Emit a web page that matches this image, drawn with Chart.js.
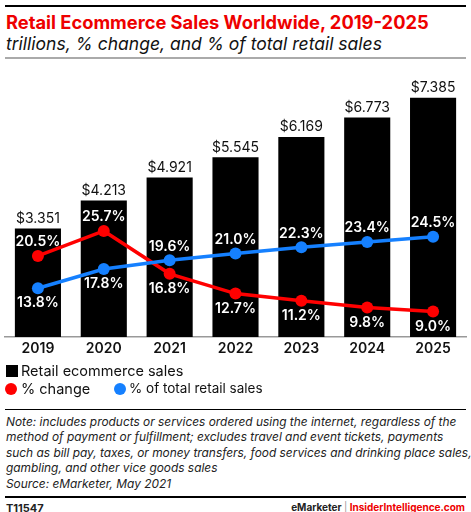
<!DOCTYPE html>
<html><head><meta charset="utf-8">
<script src="https://cdn.jsdelivr.net/npm/chart.js@4/dist/chart.umd.min.js"></script>
<style>
html,body{margin:0;padding:0;background:#fff;width:471px;height:512px;overflow:hidden;font-family:Inter,"DejaVu Sans",sans-serif;}
.abs{position:absolute;}
#topline{left:5px;top:5px;width:461px;height:2px;background:#000;}
#title{left:6px;top:11px;font-size:18.3px;font-weight:700;color:#ee0000;white-space:nowrap;}
#sub{left:6px;top:33px;font-size:17.5px;font-style:italic;color:#111;white-space:nowrap;}
#greyline{left:5px;top:57px;width:461px;height:2px;background:#aaa;}
#chartbox{left:0;top:80px;width:471px;height:287px;}
.leg{font-size:14.5px;color:#111;white-space:nowrap;}
#note{left:6px;top:414px;font-size:11.9px;font-style:italic;line-height:15.4px;color:#222;white-space:nowrap;}
#botline{left:5px;top:496px;width:461px;height:2px;background:#000;}
#code{left:6px;top:501px;font-size:11px;font-weight:700;color:#222;}
#brand{right:6px;top:501px;font-size:10px;font-weight:700;color:#ee0000;white-space:nowrap;}
</style></head>
<body>
<div id="topline" class="abs"></div>
<div id="title" class="abs">Retail Ecommerce Sales Worldwide, 2019-2025</div>
<div id="sub" class="abs">trillions, % change, and % of total retail sales</div>
<div id="greyline" class="abs"></div>
<div id="chartbox" class="abs"><canvas id="c" width="471" height="287"></canvas></div>
<div class="abs" style="left:6px;top:365px;width:12px;height:12px;background:#000;"></div>
<div class="abs leg" style="left:21px;top:362px;">Retail ecommerce sales</div>
<div class="abs" style="left:5px;top:383px;width:12px;height:12px;border-radius:50%;background:#ff0000;"></div>
<div class="abs leg" style="left:21px;top:380px;">% change</div>
<div class="abs" style="left:114px;top:383px;width:12px;height:12px;border-radius:50%;background:#1580ff;"></div>
<div class="abs leg" style="left:129px;top:380px;font-size:13.5px;">% of total retail sales</div>
<div class="abs" style="left:5px;top:409px;width:461px;height:1px;background:#000;"></div>
<div id="note" class="abs">Note: includes products or services ordered using the internet, regardless of the<br>method of payment or fulfillment; excludes travel and event tickets, payments<br>such as bill pay, taxes, or money transfers, food services and drinking place sales,<br>gambling, and other vice goods sales<br>Source: eMarketer, May 2021</div>
<div id="botline" class="abs"></div>
<div id="code" class="abs">T11547</div>
<div id="brand" class="abs"><span style="color:#222">eMarketer</span> <span style="color:#999;font-weight:400">|</span> InsiderIntelligence.com</div>
<script>
const years = ["2019","2020","2021","2022","2023","2024","2025"];
const sales = [3.351, 4.213, 4.921, 5.545, 6.169, 6.773, 7.385];
const pctChange = [20.5, 25.7, 16.8, 12.7, 11.2, 9.8, 9.0];
const pctTotal = [13.8, 17.8, 19.6, 21.0, 22.3, 23.4, 24.5];

const RED = "#ff0000", BLUE = "#1580ff";
const FONT = "Inter";

const labelPlugin = {
  id: "labels",
  afterDatasetsDraw(chart) {
    const ctx = chart.ctx;
    ctx.save();
    ctx.textAlign = "center";
    ctx.textBaseline = "middle";
    const barMeta = chart.getDatasetMeta(2);
    const redMeta = chart.getDatasetMeta(0);
    const blueMeta = chart.getDatasetMeta(1);
    barMeta.data.forEach((bar, i) => {
      ctx.fillStyle = "#111";
      ctx.font = "400 14px " + FONT;
      ctx.fillText("$" + sales[i].toFixed(3), bar.x, bar.y - 10);
      const r = redMeta.data[i], b = blueMeta.data[i];
      const redAbove = pctChange[i] > pctTotal[i];
      ctx.fillStyle = "#fff";
      ctx.font = "600 14px " + FONT;
      ctx.fillText(pctChange[i].toFixed(1) + "%", r.x, r.y + (redAbove ? -14 : 15));
      ctx.fillText(pctTotal[i].toFixed(1) + "%", b.x, b.y + (redAbove ? 15 : -14));
    });
    ctx.restore();
  }
};

new Chart(document.getElementById("c"), {
  data: {
    labels: years,
    datasets: [
      { type: "line", data: pctChange, yAxisID: "yp", borderColor: RED, backgroundColor: RED,
        borderWidth: 3.5, pointRadius: 6, pointHoverRadius: 6, pointBorderWidth: 0, tension: 0, order: 1, clip: false },
      { type: "line", data: pctTotal, yAxisID: "yp", borderColor: BLUE, backgroundColor: BLUE,
        borderWidth: 3.5, pointRadius: 6, pointHoverRadius: 6, pointBorderWidth: 0, tension: 0, order: 0, clip: false },
      { type: "bar", data: sales, yAxisID: "yb", backgroundColor: "#000",
        barPercentage: 0.7, categoryPercentage: 1.0, order: 2 }
    ]
  },
  options: {
    responsive: false,
    animation: false,
    devicePixelRatio: 1,
    layout: { autoPadding: false, padding: { left: 5, right: 5, top: 0, bottom: 0 } },
    plugins: { legend: { display: false }, tooltip: { enabled: false } },
    scales: {
      x: {
        grid: { display: false, drawTicks: false },
        border: { display: true, color: "#999", width: 1.5 },
        ticks: { color: "#111", font: { family: FONT, size: 14, weight: "600" }, padding: 3 },
        afterFit(s) { s.height = 30; }
      },
      yb: { display: false, min: 0, max: 7.932 },
      yp: { display: false, min: 3.69, max: 57.01 }
    }
  },
  plugins: [labelPlugin]
});
</script>
</body></html>
